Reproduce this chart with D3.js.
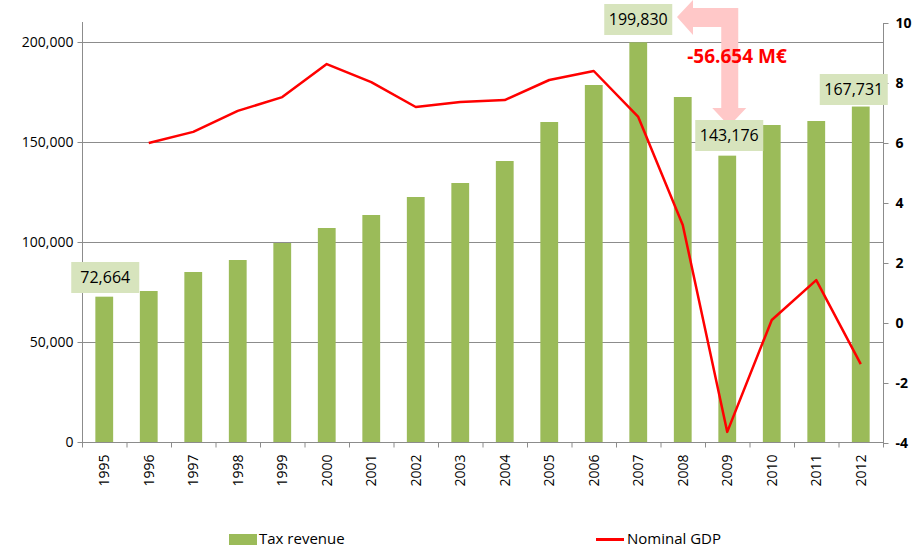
<!DOCTYPE html>
<html>
<head>
<meta charset="utf-8">
<script src="https://cdn.jsdelivr.net/npm/d3@7"></script>
<style>
  body { margin: 0; background: #fff; }
  text { font-family: "Open Sans", "Liberation Sans", sans-serif; }
</style>
</head>
<body>
<div id="chart"></div>
<script>
// Chart data
const years = ["1995","1996","1997","1998","1999","2000","2001","2002","2003",
               "2004","2005","2006","2007","2008","2009","2010","2011","2012"];
const taxRevenue = [72664, 75500, 85000, 91000, 99500, 107000, 113500, 122500, 129500,
                    140500, 160000, 178500, 199830, 172500, 143176, 158500, 160500, 167731];
const gdpGrowth = [null, 6.0, 6.37, 7.07, 7.53, 8.63, 8.03, 7.2, 7.37,
                   7.43, 8.1, 8.4, 6.87, 3.27, -3.63, 0.1, 1.43, -1.37];
const leftTicks = [0, 50000, 100000, 150000, 200000];
const rightTicks = [-4, -2, 0, 2, 4, 6, 8, 10];
const labelled = ["1995", "2007", "2009", "2012"];

const width = 914, height = 548;
const x0 = 82, x1 = 883, yTop = 22, yBot = 442;

const svg = d3.select('#chart')
              .append('svg')
              .attr('width', width)
              .attr('height', height);

const x = d3.scaleBand().domain(years).range([x0, x1]).paddingInner(0.6).paddingOuter(0.3);
const xb = d3.scaleBand().domain(years).range([x0, x1]);
const yL = d3.scaleLinear().domain([0, 210000]).range([yBot, yTop]);
const yR = d3.scaleLinear().domain([-4, 10]).range([yBot + 1, yTop + 1]);

// gridlines
svg.append("g")
   .selectAll("line")
   .data(leftTicks)
   .enter()
   .append("line")
   .attr("x1", x0).attr("x2", x1)
   .attr("y1", d => yL(d) + 0.5).attr("y2", d => yL(d) + 0.5)
   .attr("stroke", "#8c8c8c").attr("stroke-width", 1);

// bars
svg.append("g")
   .selectAll("rect")
   .data(years)
   .enter()
   .append("rect")
   .attr("x", d => x(d))
   .attr("y", (d, i) => yL(taxRevenue[i]))
   .attr("width", x.bandwidth())
   .attr("height", (d, i) => yBot - yL(taxRevenue[i]))
   .attr("fill", "#9bbb59");

// left axis
const leftAxis = svg.append("g")
   .attr("transform", `translate(${x0 + 0.5},0)`)
   .call(d3.axisLeft(yL).tickValues(leftTicks).tickSize(5).tickPadding(4).tickFormat(d3.format(",")));
leftAxis.select(".domain").attr("stroke", "#8c8c8c").attr("d", `M0,${yTop}V${yBot}`);
leftAxis.selectAll(".tick line").attr("stroke", "#8c8c8c");
leftAxis.selectAll(".tick text").attr("font-size", 14).attr("fill", "#000")
        .style("font-family", "'Open Sans', sans-serif");

// right axis
const rightAxis = svg.append("g")
   .attr("transform", `translate(${x1 + 0.5},0)`)
   .call(d3.axisRight(yR).tickValues(rightTicks).tickSize(5).tickPadding(7).tickFormat(d => String(d)));
rightAxis.select(".domain").attr("stroke", "#8c8c8c").attr("d", `M0,${yTop + 1}V${yBot + 1}`);
rightAxis.selectAll(".tick line").attr("stroke", "#8c8c8c");
rightAxis.selectAll(".tick text").attr("font-size", 14).attr("font-weight", "bold").attr("fill", "#000");

// x axis
const xAxis = svg.append("g")
   .attr("transform", `translate(0,${yBot + 0.5})`);
xAxis.append("line").attr("x1", x0).attr("x2", x1).attr("stroke", "#8c8c8c");
xAxis.selectAll("line.tk")
   .data(years.concat(["end"]))
   .enter()
   .append("line")
   .attr("class", "tk")
   .attr("x1", (d, i) => (i < years.length ? xb(d) : x1) + 0.5)
   .attr("x2", (d, i) => (i < years.length ? xb(d) : x1) + 0.5)
   .attr("y1", 0).attr("y2", 5)
   .attr("stroke", "#8c8c8c");
xAxis.selectAll("text")
   .data(years)
   .enter()
   .append("text")
   .attr("transform", d => `translate(${xb(d) + xb.bandwidth() / 2 + 5},12) rotate(-90)`)
   .attr("text-anchor", "end")
   .attr("font-size", 14)
   .text(d => d);

// GDP line
const line = d3.line()
   .defined(d => d != null)
   .x((d, i) => xb(years[i]) + xb.bandwidth() / 2)
   .y(d => yR(d));
svg.append("path")
   .datum(gdpGrowth)
   .attr("d", line)
   .attr("fill", "none")
   .attr("stroke", "#ff0000")
   .attr("stroke-width", 2.5)
   .attr("stroke-linejoin", "round");

// arrow (199,830 -> 143,176)
const ax = xb("2009") + xb.bandwidth() / 2 + 2;
svg.append("path")
   .attr("d", `M${ax - 8},108 L${ax - 8},27 L693,27 L693,35 L677,17 L693,0 L693,8 L${ax + 9},8 L${ax + 9},108 L${ax + 17},108 L${ax},126 L${ax - 17},108 Z`)
   .attr("fill", "#ffc8c8");

svg.append("text")
   .attr("x", 737).attr("y", 63)
   .attr("text-anchor", "middle")
   .attr("font-size", 19).attr("font-weight", "bold")
   .attr("fill", "#ff0000")
   .text("-56.654 M€");

// data labels
const lab = svg.append("g")
   .selectAll("g")
   .data(labelled)
   .enter()
   .append("g")
   .attr("transform", d => {
     const i = years.indexOf(d);
     let cx = xb(d) + xb.bandwidth() / 2;
     let cy = yL(taxRevenue[i]) - 20;
     if (d == "2009") { cy = 135; cx += 2; }
     if (d == "2012") { cx -= 7; cy = 89; }
     if (d == "2007") { cy = 19; }
     if (d == "1995") { cx += 1; cy = 277; }
     return `translate(${cx},${cy})`;
   });
lab.append("rect")
   .attr("x", -34).attr("y", -15).attr("width", 68).attr("height", 31)
   .attr("fill", "#d7e4bd");
lab.append("text")
   .attr("text-anchor", "middle")
   .attr("dy", "0.36em")
   .attr("font-size", 16)
   .attr("fill", "#000")
   .text(d => d3.format(",")(taxRevenue[years.indexOf(d)]));

// legend
const legend = svg.append("g");
legend.append("rect").attr("x", 229).attr("y", 534).attr("width", 28).attr("height", 11).attr("fill", "#9bbb59");
legend.append("text").attr("x", 259).attr("y", 544).attr("font-size", 15).text("Tax revenue");
legend.append("line").attr("x1", 596).attr("x2", 624).attr("y1", 539.5).attr("y2", 539.5)
      .attr("stroke", "#ff0000").attr("stroke-width", 3);
legend.append("text").attr("x", 627).attr("y", 544).attr("font-size", 15).text("Nominal GDP");
</script>
</body>
</html>
